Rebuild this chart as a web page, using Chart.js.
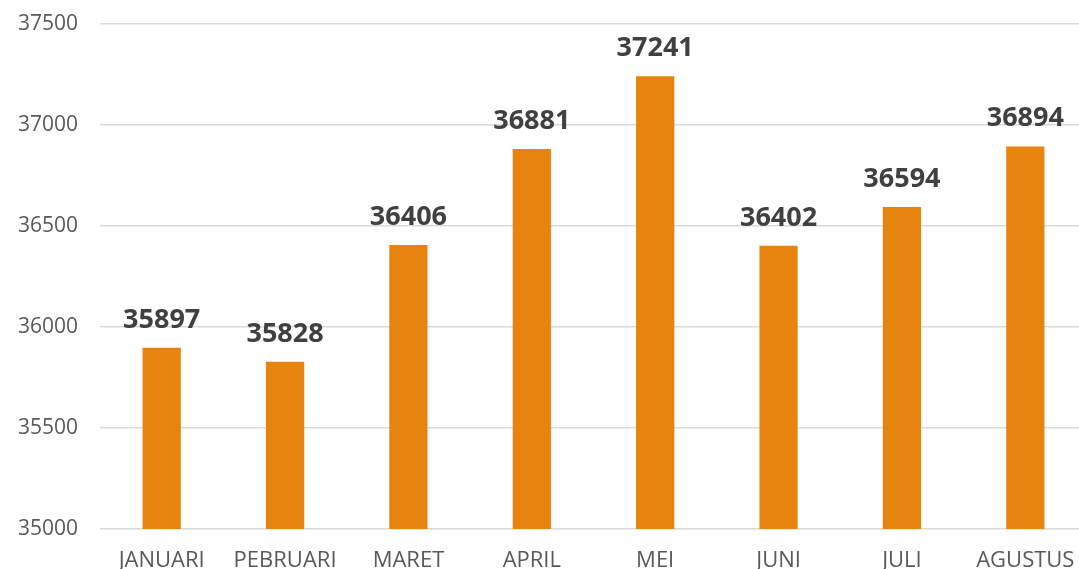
<!DOCTYPE html>
<html>
<head>
<meta charset="utf-8">
<script src="https://cdn.jsdelivr.net/npm/chart.js@4.4.0/dist/chart.umd.min.js"></script>
<style>
    html, body { margin: 0; padding: 0; background: #fff; overflow: hidden; }
    #wrap { width: 1087px; height: 571px; }
</style>
</head>
<body>
<div id="wrap"><canvas id="myChart"></canvas></div>
<script>
// Monthly values
const months = ['JANUARI', 'PEBRUARI', 'MARET', 'APRIL', 'MEI', 'JUNI', 'JULI', 'AGUSTUS'];
const values = [35897, 35828, 36406, 36881, 37241, 36402, 36594, 36894];
const yTicks = [35000, 35500, 36000, 36500, 37000, 37500];

// Draw the value above each bar
const valueLabels = {
    id: 'valueLabels',
    afterDatasetsDraw(chart) {
        const ctx = chart.ctx;
        const meta = chart.getDatasetMeta(0);
        ctx.save();
        ctx.font = 'bold 27px "Open Sans"';
        ctx.fillStyle = '#404040';
        ctx.textAlign = 'center';
        ctx.textBaseline = 'alphabetic';
        meta.data.forEach((bar, i) => {
            ctx.fillText(values[i], bar.x, bar.y - 20);
        });
        ctx.restore();
    }
};

const ctx = document.getElementById('myChart').getContext('2d');
const myChart = new Chart(ctx, {
    type: 'bar',
    data: {
        labels: months,
        datasets: [{
            data: values,
            backgroundColor: '#E6840F',
            barPercentage: 0.31,
            categoryPercentage: 1
        }]
    },
    options: {
        responsive: true,
        maintainAspectRatio: false,
        animation: false,
        layout: { padding: { top: 24, left: 18, right: 0, bottom: 0 } },
        plugins: {
            legend: { display: false },
            tooltip: { enabled: false }
        },
        scales: {
            x: {
                grid: { display: false, drawTicks: false },
                border: { display: false },
                afterFit(scale) {
                    scale.height = 42;
                    scale.paddingLeft = 0;
                    scale.paddingRight = 0;
                },
                ticks: {
                    color: '#595959',
                    font: { family: 'Open Sans', size: 22 },
                    padding: 19,
                    maxRotation: 0
                }
            },
            y: {
                min: 35000,
                max: 37500,
                afterBuildTicks(scale) {
                    scale.ticks = yTicks.map(v => ({ value: v }));
                },
                afterFit(scale) {
                    scale.width = 82;
                    scale.paddingTop = 0;
                    scale.paddingBottom = 0;
                },
                grid: { color: '#d9d9d9', lineWidth: 1.5, drawTicks: false },
                border: { display: false },
                ticks: {
                    color: '#595959',
                    font: { family: 'Open Sans', size: 21 },
                    padding: 22,
                    callback: v => String(v)
                }
            }
        }
    },
    plugins: [valueLabels]
});
</script>
</body>
</html>
